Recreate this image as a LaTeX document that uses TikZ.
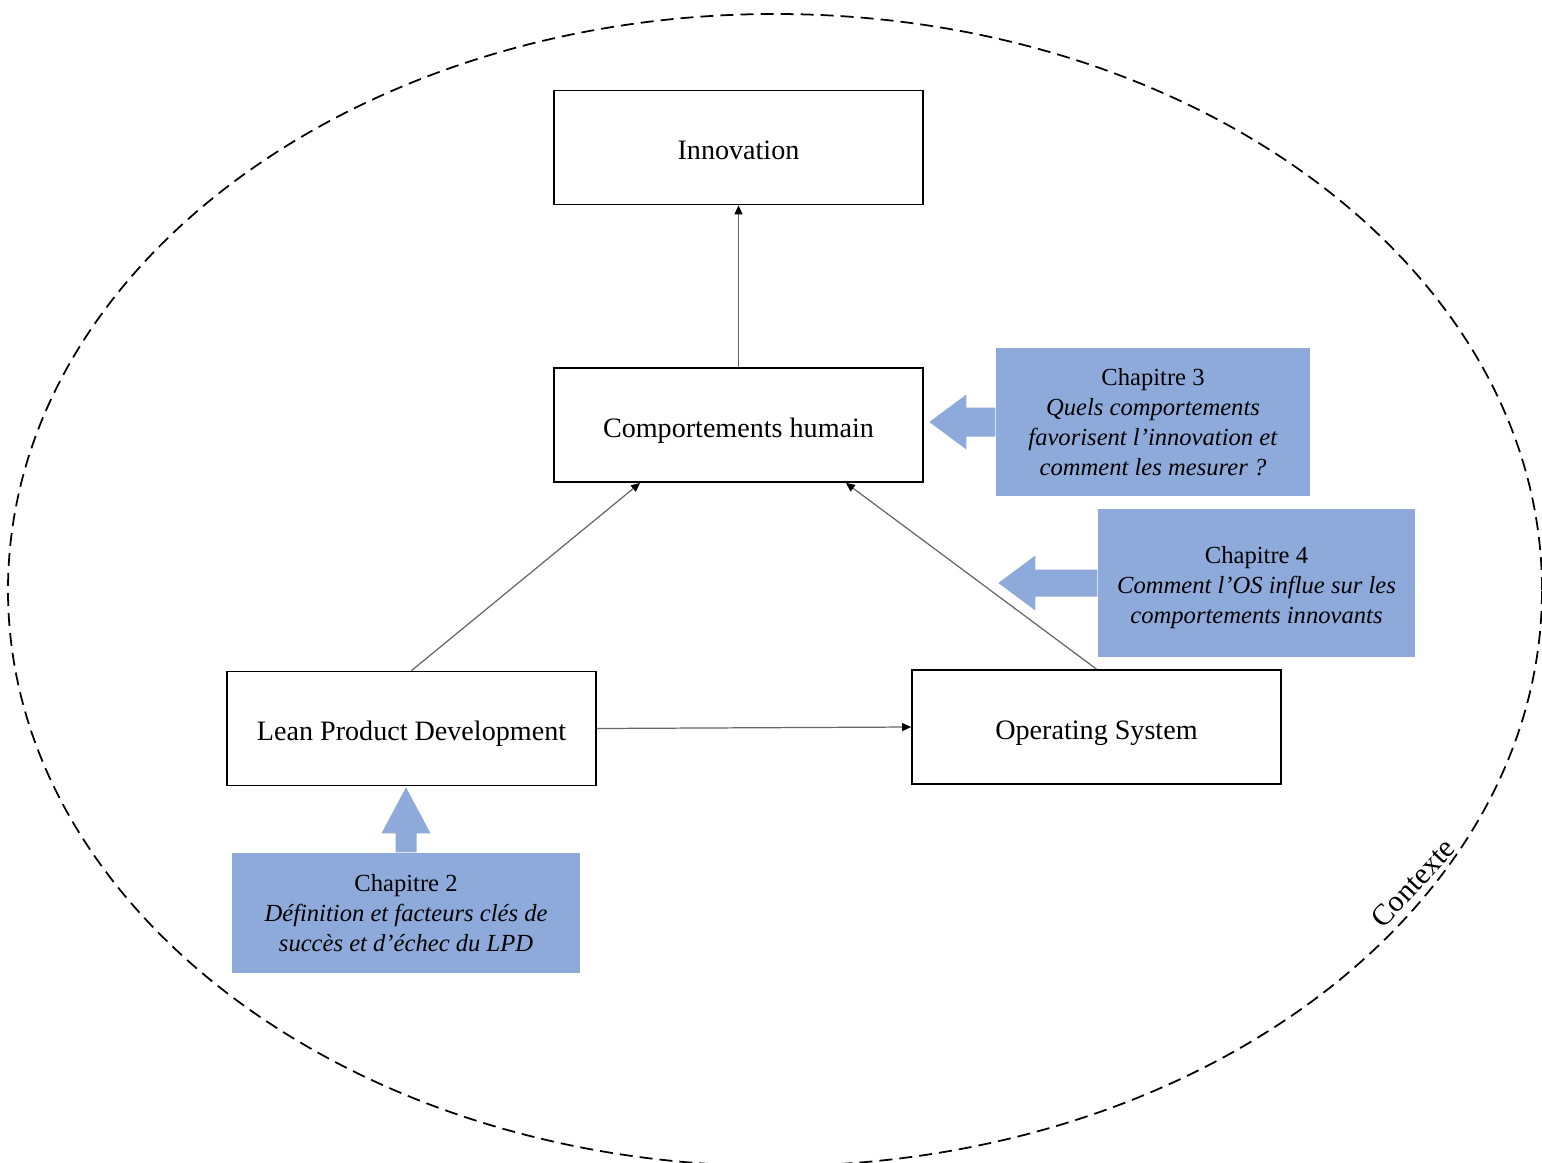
\documentclass[tikz,border=0pt]{standalone}
\usepackage{fontspec}
\setmainfont{Liberation Serif}
\usetikzlibrary{arrows.meta}
\definecolor{chapblue}{RGB}{142,170,219}

\begin{document}
\begin{tikzpicture}[every node/.style={font=\fontsize{8}{8.6}\selectfont},
  box/.style={draw, line width=0.5pt, minimum width=3.69cm, minimum height=1.14cm, inner sep=0pt, text height=7pt, text depth=0pt},
  chapbox/.style={fill=chapblue, align=center, inner sep=0pt, font=\fontsize{7}{8.55}\selectfont},
  link/.style={draw=black!60, line width=0.35pt, -{Triangle[length=0.9mm, width=0.8mm, color=black]}}]
\useasboundingbox (0,0) rectangle (15.42,11.62);
% Draw context
\draw[dash pattern=on 3.7pt off 2pt, line width=0.5pt] (7.75,5.72) ellipse [x radius=7.67, y radius=5.76];
\node[rotate=47, font=\fontsize{8.5}{10}\selectfont] (ctx) at (14.13,2.79) {Contexte};
% Draw boxes
\node[box] (innov) at (7.385,10.145) {Innovation};
\node[box] (comp) at (7.385,7.37) {Comportements humain};
\node[box] (lpd) at (4.115,4.335) {Lean Product Development};
\node[box] (os) at (10.965,4.35) {Operating System};
% Draw chapters
\node[chapbox, minimum width=3.14cm, minimum height=1.48cm] (ch3) at (11.53,7.40) {Chapitre 3\\\textit{Quels comportements}\\\textit{favorisent l’innovation et}\\\textit{comment les mesurer ?}};
\node[chapbox, minimum width=3.17cm, minimum height=1.48cm] (ch4) at (12.565,5.79) {\rule{0pt}{7.6pt}Chapitre 4\\\textit{Comment l’OS influe sur les}\\\textit{comportements innovants}};
\node[chapbox, minimum width=3.48cm, minimum height=1.20cm] (ch2) at (4.06,2.49) {Chapitre 2\\\textit{Définition et facteurs clés de}\\\textit{succès et d’échec du LPD}};
% Draw block arrows
\fill[chapblue] (ch3.west) ++(0,0.145) -- ++(-0.29,0) -- ++(0,0.13) -- ++(-0.37,-0.275) -- ++(0.37,-0.275) -- ++(0,0.13) -- ++(0.29,0) -- cycle;
\fill[chapblue] (ch4.west) ++(0,0.135) -- ++(-0.62,0) -- ++(0,0.14) -- ++(-0.37,-0.275) -- ++(0.37,-0.275) -- ++(0,0.14) -- ++(0.62,0) -- cycle;
\fill[chapblue] (ch2.north) ++(0.105,0) -- ++(0,0.19) -- ++(0.14,0) -- ++(-0.245,0.46) -- ++(-0.245,-0.46) -- ++(0.14,0) -- ++(0,-0.19) -- cycle;
% Draw links
\draw[link] (comp.north) -- (innov.south);
\draw[link] (lpd.north) -- ([xshift=0.87cm]comp.south west);
\draw[link] (os.north) -- ([xshift=-0.78cm]comp.south east);
\draw[link] (lpd.east) -- (os.west);
\end{tikzpicture}
\end{document}
